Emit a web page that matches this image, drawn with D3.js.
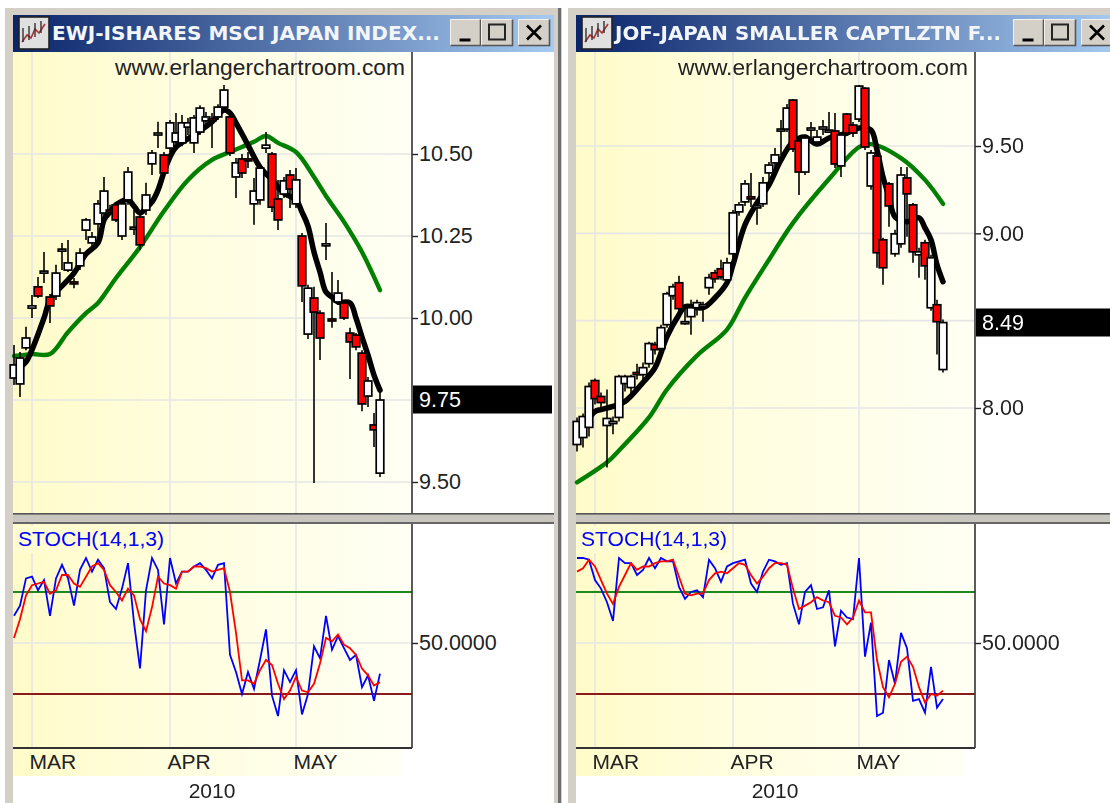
<!DOCTYPE html>
<html><head><meta charset="utf-8">
<style>html,body{margin:0;padding:0;background:#fff;overflow:hidden}svg{display:block;filter:blur(0.6px)}</style>
<script src="https://cdn.jsdelivr.net/npm/d3@7"></script></head><body><svg id="c" width="1110" height="803"></svg>
<script>
const months=["MAR","APR","MAY"], monthIdx=[3,26,47], yearLabel="2010";
const ewjOpen=[9.817,9.799,9.909,10.03,10.095,10.137,10.064,10.067,10.204,10.146,10.11,10.159,10.268,10.229,10.287,10.32,10.329,10.345,10.25,10.36,10.271,10.308,10.329,10.47,10.558,10.497,10.518,10.537,10.534,10.582,10.534,10.567,10.601,10.607,10.613,10.643,10.613,10.43,10.485,10.485,10.348,10.36,10.518,10.5,10.363,10.378,10.436,10.348,10.25,9.951,10.061,10.015,10.22,9.997,10.049,10.046,9.954,9.948,9.893,9.762,9.674,9.527];
const ewjHigh=[9.918,9.896,9.973,10.07,10.125,10.201,10.073,10.162,10.229,10.238,10.122,10.213,10.305,10.262,10.36,10.43,10.345,10.351,10.36,10.46,10.329,10.32,10.412,10.512,10.598,10.506,10.604,10.625,10.619,10.61,10.619,10.649,10.628,10.625,10.652,10.71,10.628,10.488,10.5,10.506,10.427,10.47,10.567,10.506,10.421,10.43,10.451,10.457,10.259,10.101,10.095,10.024,10.29,10.14,10.116,10.049,9.97,9.954,9.902,9.82,9.71,9.774];
const ewjLow=[9.796,9.759,9.902,10.0,10.061,10.107,9.985,10.055,10.146,10.14,10.091,10.146,10.238,10.213,10.238,10.311,10.314,10.293,10.238,10.345,10.253,10.207,10.314,10.436,10.518,10.427,10.506,10.518,10.524,10.558,10.503,10.558,10.588,10.518,10.604,10.628,10.494,10.366,10.427,10.457,10.284,10.345,10.503,10.323,10.268,10.366,10.335,10.335,10.049,9.936,9.497,9.872,10.177,9.97,10.04,9.994,9.814,9.902,9.716,9.729,9.607,9.515];
const ewjClose=[9.857,9.878,9.939,10.037,10.067,10.143,10.037,10.137,10.21,10.168,10.104,10.198,10.299,10.247,10.348,10.387,10.323,10.299,10.348,10.445,10.277,10.223,10.375,10.503,10.564,10.442,10.595,10.564,10.595,10.595,10.61,10.64,10.613,10.601,10.643,10.695,10.503,10.473,10.442,10.479,10.387,10.457,10.527,10.338,10.299,10.418,10.393,10.421,10.098,10.091,10.018,9.939,10.226,9.991,10.076,10.0,9.927,9.912,9.738,9.808,9.659,9.75];
const ewjFastIdx=[1,2,5,6,10,12,14,15,16,17,19,20,21,22,23,24,25,26,27,30,33,35,36,37,39,41,43,45,47,48,49,50,51,52,53,54,56,57,58,59,60,61];
const ewjFast=[9.851,9.866,10.0,10.055,10.137,10.195,10.229,10.299,10.323,10.345,10.36,10.341,10.32,10.335,10.354,10.39,10.445,10.491,10.521,10.558,10.598,10.634,10.625,10.595,10.527,10.46,10.421,10.381,10.36,10.323,10.28,10.201,10.14,10.079,10.064,10.049,10.046,10.0,9.942,9.887,9.826,9.78];
const ewjSlowIdx=[0,3,6,9,12,14,17,21,25,29,33,36,40,42,44,47,50,52,55,58,61];
const ewjSlow=[9.884,9.89,9.89,9.957,10.015,10.046,10.122,10.216,10.326,10.421,10.482,10.506,10.537,10.555,10.534,10.506,10.43,10.372,10.293,10.201,10.085];
const ewjK=[66,72,88,89,81,87,66,88,96,88,72,93,100,92,99,94,74,70,82,97,62,35,81,100,93,61,100,85,92,92,95,97,93,88,96,97,43,33,20,33,23,40,58,19,7,34,27,34,8,20,48,41,66,46,54,47,40,43,24,31,16,32];
const ewjD=[53,64,78,84,85,86,79,81,90,90,85,83,89,95,97,93,84,80,75,82,78,64,57,71,89,85,84,82,92,92,95,95,94,92,93,94,80,56,28,28,26,34,40,37,26,17,22,30,22,21,26,38,53,51,55,49,47,43,35,31,25,27];

const jofOpen=[7.791,7.831,7.889,8.157,8.066,7.9,7.911,7.946,8.14,8.117,8.203,8.191,8.254,8.363,8.34,8.477,8.643,8.717,8.483,8.523,8.574,8.58,8.689,8.774,8.797,8.734,8.883,9.123,9.18,9.209,9.146,9.169,9.346,9.403,9.586,9.597,9.763,9.529,9.351,9.591,9.523,9.597,9.58,9.586,9.386,9.683,9.62,9.654,9.831,9.271,9.443,8.963,9.283,8.883,8.94,9.317,9.163,8.877,8.946,8.574,8.591,8.22];
const jofHigh=[7.946,7.969,8.146,8.169,8.089,8.106,7.951,8.191,8.191,8.191,8.254,8.26,8.38,8.38,8.477,8.666,8.711,8.757,8.574,8.62,8.62,8.609,8.769,8.791,8.849,8.86,9.134,9.18,9.306,9.346,9.174,9.323,9.409,9.489,9.649,9.74,9.769,9.54,9.563,9.637,9.591,9.649,9.694,9.689,9.58,9.689,9.637,9.849,9.837,9.477,9.449,8.974,9.294,9.02,9.38,9.38,9.174,8.917,8.963,8.877,8.62,8.506];
const jofLow=[7.751,7.774,7.837,8.02,7.98,7.66,7.849,7.923,8.094,8.077,8.163,8.163,8.231,8.306,8.323,8.46,8.62,8.551,8.477,8.42,8.529,8.494,8.649,8.717,8.734,8.711,8.86,9.1,9.157,9.151,9.049,9.151,9.306,9.363,9.449,9.58,9.466,9.22,9.334,9.534,9.5,9.563,9.574,9.374,9.323,9.557,9.551,9.637,9.477,9.249,8.803,8.706,9.037,8.866,8.917,8.98,8.831,8.746,8.734,8.557,8.306,8.203];
const jofClose=[7.923,7.951,8.123,8.054,8.031,7.94,7.923,8.18,8.18,8.18,8.191,8.231,8.369,8.334,8.46,8.654,8.694,8.569,8.494,8.574,8.603,8.591,8.746,8.74,8.751,8.831,9.117,9.163,9.283,9.197,9.157,9.289,9.391,9.449,9.597,9.717,9.483,9.351,9.546,9.603,9.551,9.609,9.591,9.397,9.563,9.574,9.574,9.843,9.494,9.46,8.889,8.803,9.157,8.997,9.334,9.226,8.894,8.894,8.814,8.86,8.494,8.489];
const jofFastIdx=[1,3,4,6,8,11,13,15,17,18,21,23,25,26,28,30,32,34,36,38,40,42,45,47,49,50,51,52,53,55,57,58,59,60,61];
const jofFast=[7.889,7.98,7.991,8.009,8.037,8.146,8.231,8.409,8.534,8.58,8.574,8.631,8.717,8.82,9.049,9.174,9.277,9.42,9.523,9.551,9.511,9.546,9.574,9.603,9.591,9.477,9.323,9.209,9.094,9.066,9.089,9.031,8.963,8.82,8.723];
const jofSlowIdx=[0,5,7,12,15,20,25,28,32,36,42,47,49,54,58,61];
const jofSlow=[7.574,7.689,7.757,7.946,8.106,8.3,8.449,8.631,8.849,9.06,9.311,9.494,9.511,9.431,9.306,9.169];
const jofK=[100,100,99,87,82,74,63,100,97,97,90,93,100,94,100,98,98,83,76,80,81,77,99,94,86,95,97,98,99,85,80,92,99,98,96,97,73,61,80,84,70,71,81,48,69,65,64,100,42,62,7,9,40,26,56,47,16,17,9,36,12,17];
const jofD=[92,94,99,95,87,79,73,83,90,97,93,95,95,97,98,98,99,89,79,78,79,79,87,91,92,91,94,97,96,90,85,89,94,97,97,96,82,70,72,74,77,75,74,66,65,61,65,75,68,68,40,24,18,26,39,42,36,24,15,20,19,22];

const FONT="'Liberation Sans',Arial,sans-serif";
const svg=d3.select("#c");
const defs=svg.append("defs");
const g1=defs.append("linearGradient").attr("id","plotBg");
[[0,"#fffbc9"],[0.45,"#fffee0"],[1,"#fffff4"]].forEach(s=>g1.append("stop").attr("offset",s[0]).attr("stop-color",s[1]));
const g2=defs.append("linearGradient").attr("id","titleBg");
[[0,"#0a246a"],[1,"#a6caf0"]].forEach(s=>g2.append("stop").attr("offset",s[0]).attr("stop-color",s[1]));

function R(g,x,y,w,h,f){return g.append("rect").attr("x",x).attr("y",y).attr("width",w).attr("height",h).attr("fill",f);}

function button(g,x,y,w,h,kind){
  R(g,x,y,w,h,"#d4d0c8");
  g.append("path").attr("d",`M${x+.5},${y+h-.5}V${y+.5}H${x+w-.5}`).attr("fill","none").attr("stroke","#f4f2ee");
  g.append("path").attr("d",`M${x+.5},${y+h-.5}H${x+w-.5}V${y+.5}`).attr("fill","none").attr("stroke","#555").attr("stroke-width",1.6);
  const cx=x+w/2,cy=y+h/2;
  if(kind==="min")R(g,cx-6,cy+6,11,3,"#000");
  if(kind==="max")g.append("rect").attr("x",cx-8).attr("y",cy-8).attr("width",16).attr("height",15).attr("fill","none").attr("stroke","#111").attr("stroke-width",2).attr("stroke-opacity",.9);
  if(kind==="close")g.append("path").attr("d",`M${cx-7},${cy-7}L${cx+7},${cy+7}M${cx+7},${cy-7}L${cx-7},${cy+7}`).attr("stroke","#000").attr("stroke-width",2.6);
}

function panel(o){
  const L=o.left, P=L+399;
  const g=svg.append("g");
  R(g,L-8,8,o.winRight-L+16,795,"#d4d0c8");
  R(g,L,52,o.winRight-L,751,"#fff");
  R(g,o.winRight+4,8,3,795,"#6e6e6e");
  R(g,L,15,o.winRight-L,37,"url(#titleBg)");
  const ic=g.append("g");
  R(ic,L+6,17,30,32,"#e0e0e0").attr("stroke","#222").attr("stroke-width",1.6);
  ic.append("path").attr("d",`M${L+9},42l5,-7l4,3l4,-9l4,4l6,-9`).attr("fill","none").attr("stroke","#a33").attr("stroke-width",1.6);
  ic.append("path").attr("d",`M${L+10},28v14M${L+16},26v14M${L+22},23v14M${L+28},21v12`).attr("stroke","#333").attr("stroke-width",1.4);
  g.append("text").text(o.title).attr("x",L+39).attr("y",40).attr("font-family","'DejaVu Sans',Verdana,sans-serif")
    .attr("font-weight","bold").attr("font-size",19.5).attr("fill","#f2f6fb")
    .attr("textLength",o.titleW).attr("lengthAdjust","spacingAndGlyphs");
  button(g,L+437,19,31,27,"min");button(g,L+468,19,32,27,"max");button(g,L+505,19,32,27,"close");

  R(g,L,52,399,461,"url(#plotBg)");
  R(g,L,524,399,224,"url(#plotBg)");
  R(g,L,749,388,27,"url(#plotBg)");

  const x=d3.scaleLinear().domain([0,61]).range([L+1,L+367]);
  const y=d3.scaleLinear().domain(o.yDomain).range(o.yRange);
  const yS=d3.scaleLinear().domain([0,100]).range([728,558]);

  const grid=g.append("g").attr("stroke","#e6e6e6").attr("stroke-width",1.6);
  monthIdx.forEach(m=>{grid.append("line").attr("x1",x(m)).attr("x2",x(m)).attr("y1",52).attr("y2",513);
    grid.append("line").attr("x1",x(m)).attr("x2",x(m)).attr("y1",524).attr("y2",748);});
  o.gridVals.forEach(v=>grid.append("line").attr("x1",L).attr("x2",P).attr("y1",y(v)).attr("y2",y(v)));
  grid.append("line").attr("x1",L).attr("x2",P).attr("y1",yS(50)).attr("y2",yS(50));

  g.append("text").text("www.erlangerchartroom.com").attr("x",P-297).attr("y",75)
    .attr("font-family",FONT).attr("font-size",21.5).attr("fill","#222")
    .attr("textLength",290).attr("lengthAdjust","spacingAndGlyphs");

  const mk=(idx,vals)=>d3.line().curve(d3.curveCatmullRom.alpha(0.5)).x((d,i)=>x(idx[i])).y(d=>y(d))(vals);
  g.append("path").attr("d",mk(o.slowIdx,o.slow)).attr("fill","none").attr("stroke","#008000").attr("stroke-width",4.4).attr("stroke-linejoin","round").attr("stroke-linecap","round");
  g.append("path").attr("d",mk(o.fastIdx,o.fast)).attr("fill","none").attr("stroke","#000").attr("stroke-width",5.5).attr("stroke-linejoin","round").attr("stroke-linecap","round");

  const idx=d3.range(o.open.length);
  g.append("g").selectAll("line").data(idx).join("line")
    .attr("x1",i=>x(i)).attr("x2",i=>x(i)).attr("y1",i=>y(o.high[i])).attr("y2",i=>y(o.low[i]))
    .attr("stroke","#000").attr("stroke-width",1.6);
  g.append("g").selectAll("rect").data(idx).join("rect")
    .attr("x",i=>x(i)-3.8).attr("width",7.6)
    .attr("y",i=>y(Math.max(o.open[i],o.close[i])))
    .attr("height",i=>Math.max(2,Math.abs(y(o.open[i])-y(o.close[i]))))
    .attr("fill",i=>o.close[i]>=o.open[i]?"#fff":"#ff0000")
    .attr("stroke","#000").attr("stroke-width",1.7);

  const styleAxis=a=>{a.select(".domain").remove();
    a.selectAll("line").attr("stroke","#222").attr("stroke-width",1.4);
    a.selectAll("text").attr("font-family",FONT).attr("font-size",21.5).attr("fill","#222");};
  const ax=g.append("g").attr("transform",`translate(${P},0)`)
    .call(d3.axisRight(y).tickValues(o.ticks).tickFormat(d3.format(".2f")).tickSize(6).tickPadding(1));
  styleAxis(ax);
  g.append("line").attr("x1",P).attr("x2",P).attr("y1",52).attr("y2",513).attr("stroke","#333").attr("stroke-width",1.6);
  const lastY=y(o.close[o.close.length-1]);
  R(g,P+1,Math.round(lastY)-14.5,o.tagW,28,"#000");
  g.append("text").text(o.close[o.close.length-1].toFixed(2)).attr("x",P+7).attr("y",lastY+7).attr("font-family",FONT).attr("font-size",21.5).attr("fill","#fff");

  R(g,L,513,o.winRight-L,11,"#c9c6bf");
  R(g,L,513,o.winRight-L,1.6,"#555");
  R(g,L,522,o.winRight-L,2,"#666");

  R(g,L,526,152,27,"#fffcd2");
  g.append("line").attr("x1",L).attr("x2",P).attr("y1",yS(80)).attr("y2",yS(80)).attr("stroke","#1e8a1e").attr("stroke-width",1.8);
  g.append("line").attr("x1",L).attr("x2",P).attr("y1",yS(20)).attr("y2",yS(20)).attr("stroke","#8b1a1a").attr("stroke-width",1.8);
  const sl=d3.line().x((d,i)=>x(i)).y(d=>yS(d));
  g.append("path").attr("d",sl(o.k)).attr("fill","none").attr("stroke","#0000ff").attr("stroke-width",1.8);
  g.append("path").attr("d",sl(o.d)).attr("fill","none").attr("stroke","#ff0000").attr("stroke-width",1.8);
  g.append("text").text("STOCH(14,1,3)").attr("x",L+5).attr("y",546).attr("font-family",FONT).attr("font-size",20.5).attr("fill","#0000ff")
    .attr("textLength",146).attr("lengthAdjust","spacingAndGlyphs");
  const ax2=g.append("g").attr("transform",`translate(${P},0)`)
    .call(d3.axisRight(yS).tickValues([50]).tickFormat(d3.format(".4f")).tickSize(6).tickPadding(1));
  styleAxis(ax2);
  g.append("line").attr("x1",P).attr("x2",P).attr("y1",524).attr("y2",748).attr("stroke","#333").attr("stroke-width",1.6);
  g.append("line").attr("x1",L).attr("x2",P).attr("y1",748).attr("y2",748).attr("stroke","#333").attr("stroke-width",1.8);

  const xm=d3.scaleOrdinal().domain(months).range(monthIdx.map(m=>x(m)));
  const ax3=g.append("g").attr("transform","translate(0,748)")
    .call(d3.axisBottom(xm).tickSize(0).tickPadding(6));
  ax3.select(".domain").remove();
  ax3.selectAll("text").attr("text-anchor","start").attr("dx",-3).attr("font-family",FONT).attr("font-size",21).attr("fill","#222");
  g.append("text").text(yearLabel).attr("x",x(monthIdx[1])+42).attr("y",798).attr("text-anchor","middle").attr("font-family",FONT).attr("font-size",21).attr("fill","#222");
}

panel({left:13,winRight:554,title:"EWJ-ISHARES MSCI JAPAN INDEX...",titleW:388,yDomain:[9.5,10.5],yRange:[482,154],ticks:[9.5,10,10.25,10.5],gridVals:[9.5,9.75,10,10.25,10.5],tagW:139,
  open:ewjOpen,high:ewjHigh,low:ewjLow,close:ewjClose,fastIdx:ewjFastIdx,fast:ewjFast,slowIdx:ewjSlowIdx,slow:ewjSlow,k:ewjK,d:ewjD});
panel({left:576,winRight:1117,title:"JOF-JAPAN SMALLER CAPTLZTN F...",titleW:386,yDomain:[8,9.5],yRange:[408,146],ticks:[8,9,9.5],gridVals:[8,8.5,9,9.5],tagW:139,
  open:jofOpen,high:jofHigh,low:jofLow,close:jofClose,fastIdx:jofFastIdx,fast:jofFast,slowIdx:jofSlowIdx,slow:jofSlow,k:jofK,d:jofD});
</script></body></html>
